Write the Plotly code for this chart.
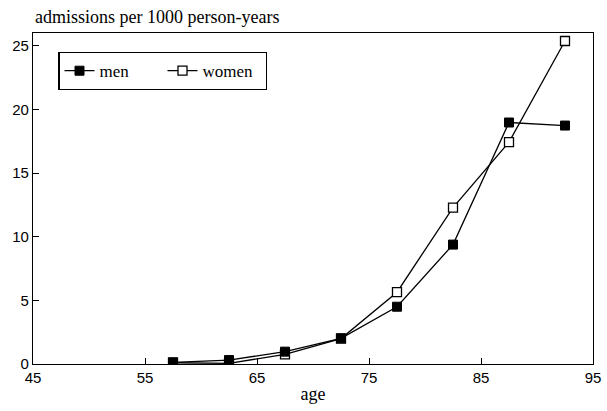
import plotly.graph_objects as go

ages = [57.5, 62.5, 67.5, 72.5, 77.5, 82.5, 87.5, 92.5]
men = [0.13, 0.31, 0.97, 2.02, 4.5, 9.38, 18.97, 18.73]
women = [0.1, 0.05, 0.76, 2.0, 5.64, 12.29, 17.43, 25.37]
x_ticks = [45, 55, 65, 75, 85, 95]
y_ticks = [0, 5, 10, 15, 20, 25]

serif = "Liberation Serif, Times New Roman, serif"
sans = "Liberation Sans, Arial, sans-serif"

fig = go.Figure()
fig.add_trace(go.Scatter(
    x=ages, y=women, name="women&nbsp;&nbsp;", mode="lines+markers",
    line=dict(color="black", width=1.3),
    marker=dict(symbol="square", size=9, color="white", line=dict(color="black", width=1.3)),
))
fig.add_trace(go.Scatter(
    x=ages, y=men, name="men", mode="lines+markers",
    line=dict(color="black", width=1.3),
    marker=dict(symbol="square", size=9, color="black", line=dict(color="black", width=1)),
))

fig.update_layout(
    width=607, height=411,
    margin=dict(l=33, r=14, t=33, b=47, autoexpand=False),
    plot_bgcolor="white", paper_bgcolor="white",
    showlegend=True,
    legend=dict(
        orientation="h", traceorder="reversed",
        x=0.045, y=0.943, xanchor="left", yanchor="top",
        bordercolor="black", borderwidth=1.3, bgcolor="white",
        font=dict(family=serif, size=17, color="black"),
        entrywidth=58, entrywidthmode="pixels",
    ),
    xaxis=dict(
        range=[45, 95], tickvals=x_ticks, ticktext=[str(v) for v in x_ticks],
        showgrid=False, zeroline=False, showline=True, linecolor="black", linewidth=1.3,
        mirror=True, ticks="inside", ticklen=6, tickcolor="black", automargin=False,
        tickfont=dict(family=sans, size=15, color="black"),
        title=dict(text="age", font=dict(family=serif, size=18, color="black"), standoff=2),
    ),
    yaxis=dict(
        range=[0, 26.0], tickvals=y_ticks, ticktext=[str(v) for v in y_ticks],
        showgrid=False, zeroline=False, showline=True, linecolor="black", linewidth=1.3,
        mirror=True, ticks="inside", ticklen=6, tickcolor="black", automargin=False,
        tickfont=dict(family=sans, size=15, color="black"),
    ),
    annotations=[dict(
        text="admissions per 1000 person-years", xref="paper", yref="paper",
        x=0.0, y=1.0, xanchor="left", yanchor="bottom", yshift=4, showarrow=False,
        font=dict(family=serif, size=18, color="black"),
    )],
)

fig.write_html(
    "out.html",
    config={"displayModeBar": False},
    post_script="document.body.style.margin='0';document.body.style.padding='0';",
)
